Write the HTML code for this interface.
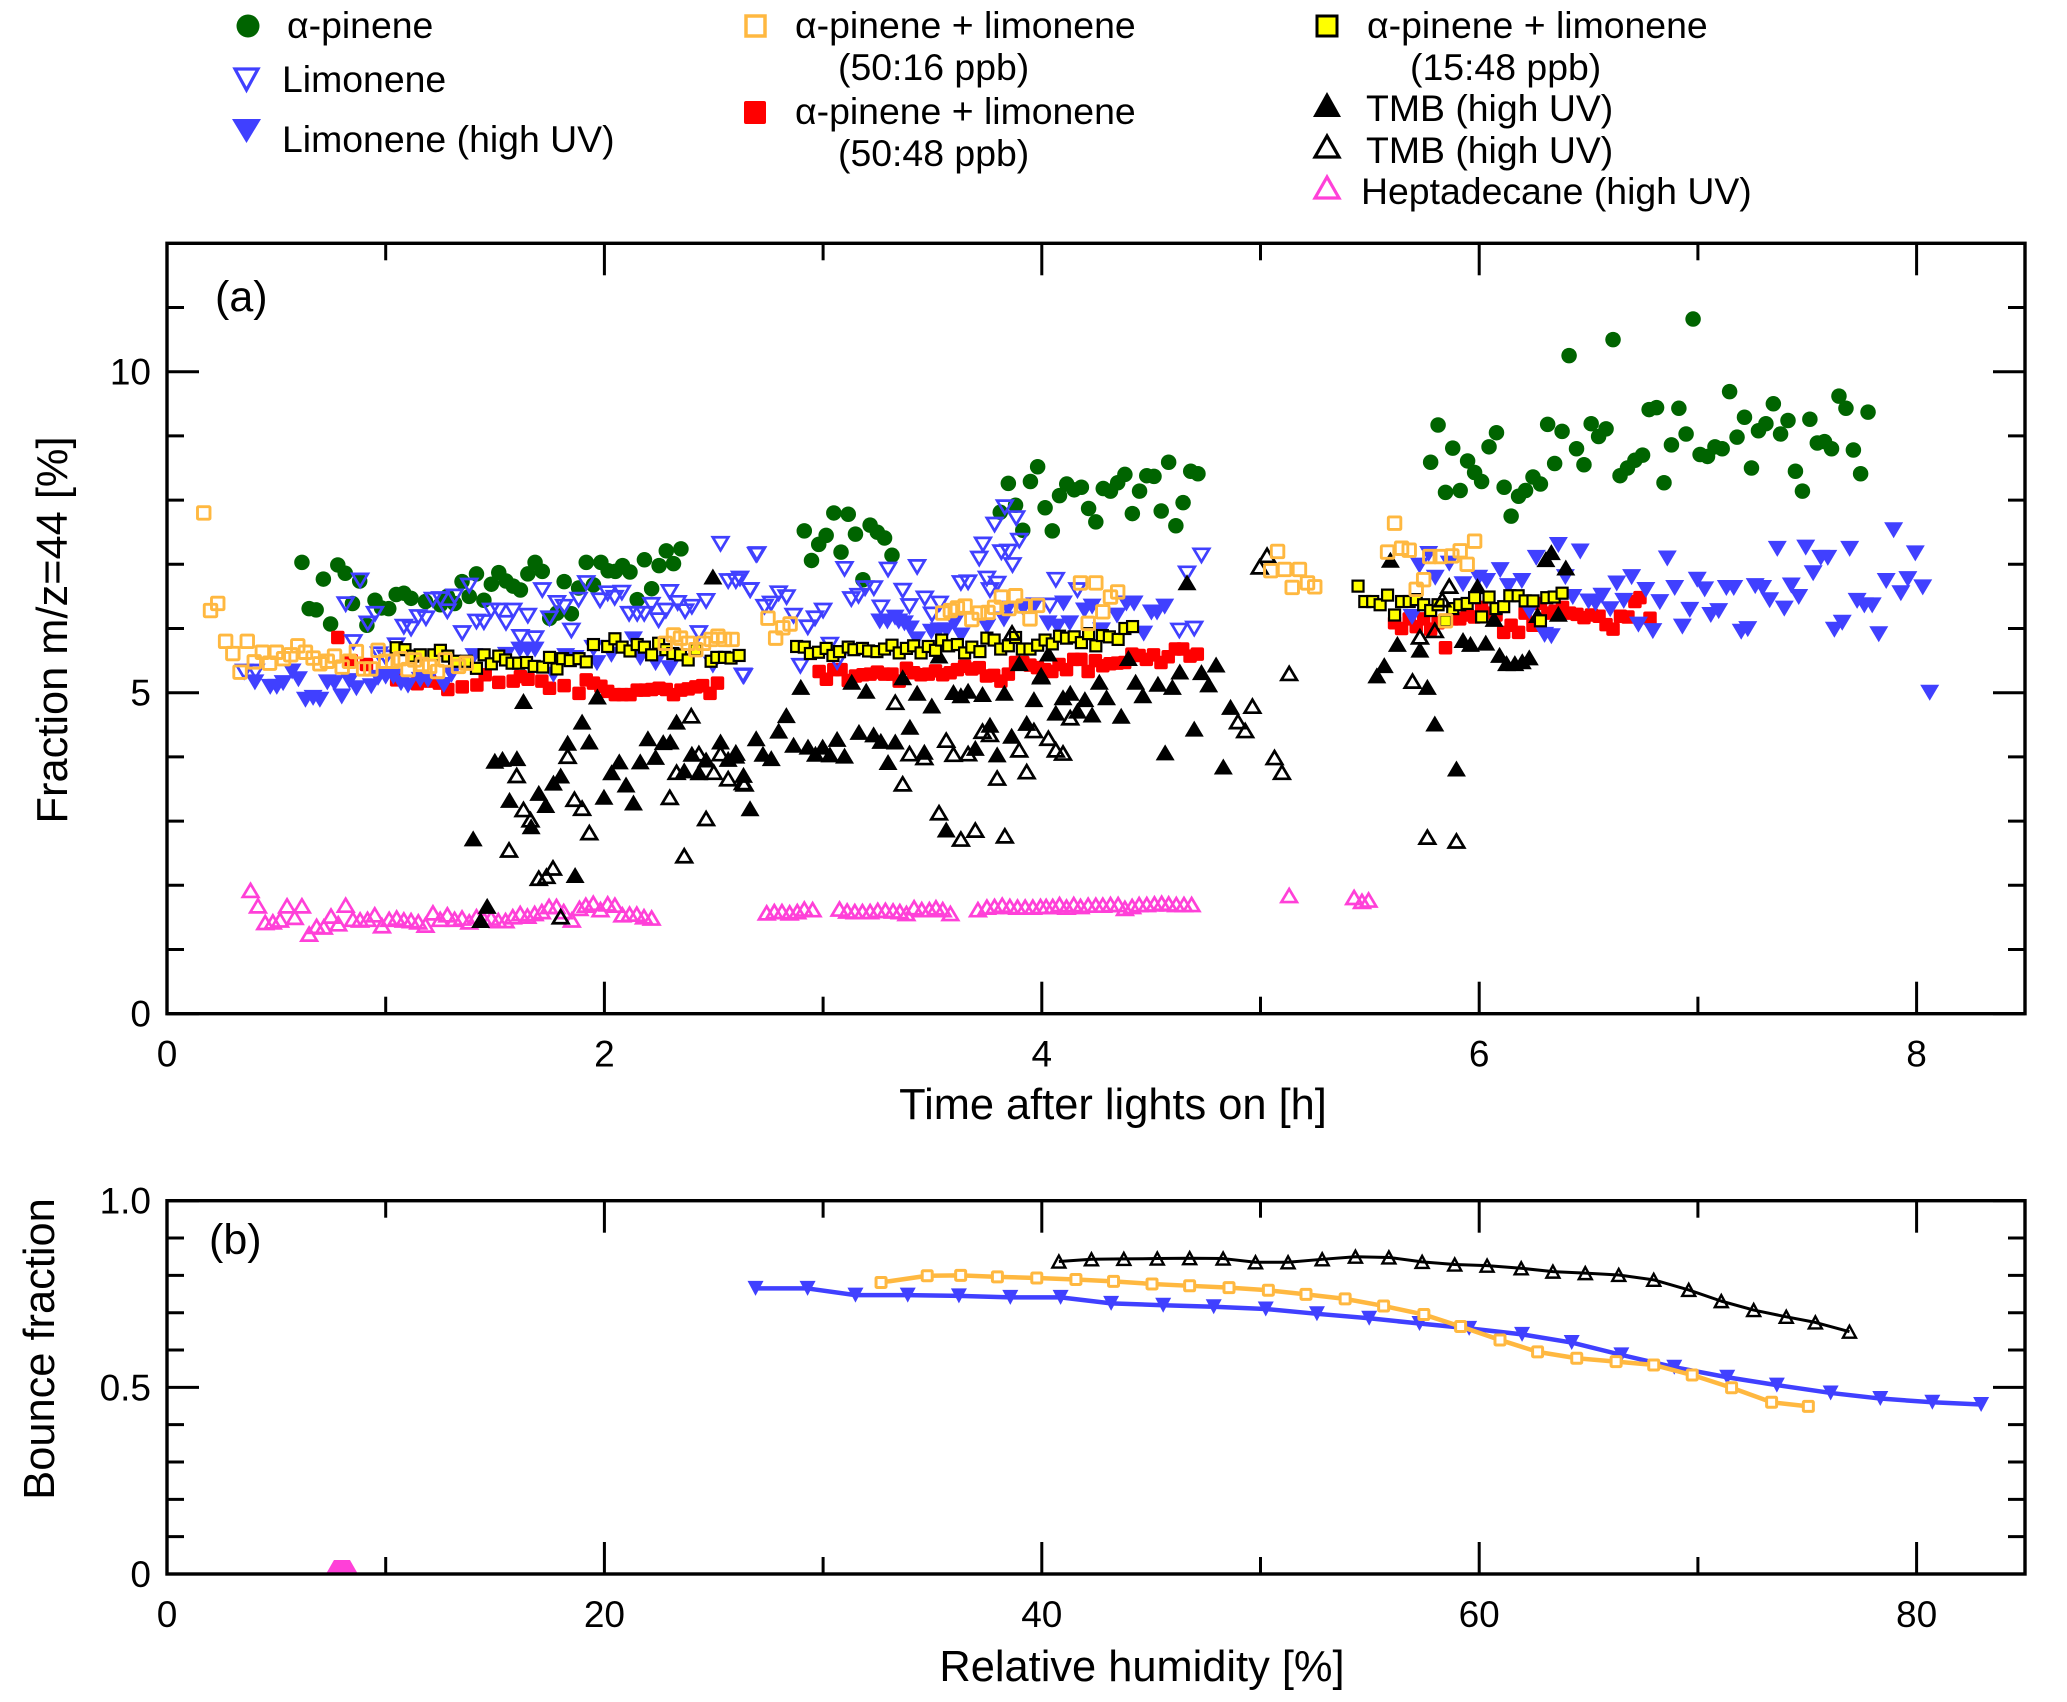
<!DOCTYPE html>
<html>
<head>
<meta charset="utf-8">
<title>Fraction m/z=44 and bounce fraction</title>
<style>
html,body{margin:0;padding:0;background:#fff}
svg{display:block}
text{font-family:"Liberation Sans",Arial,sans-serif;fill:#000}
.leg{font-size:37.4px}
.tick{font-size:37px}
.plabel{font-size:43px}
.title{font-size:43.4px}
</style>
</head>
<body>
<svg id="chart" width="2067" height="1702" viewBox="0 0 2067 1702" xmlns="http://www.w3.org/2000/svg">
<rect width="2067" height="1702" fill="#fff"/>
<g>
<circle cx="248" cy="26" r="11.5" fill="#006400"/>
<text class="leg" x="287" y="38">α-pinene</text>
<polygon points="235,69 258,69 246.5,90" fill="none" stroke="#4040ff" stroke-width="3.2"/>
<text class="leg" x="282" y="92">Limonene</text>
<polygon points="232,119 261,119 246.5,143" fill="#4040ff"/>
<text class="leg" x="282" y="152">Limonene (high UV)</text>
<rect x="746" y="16" width="19" height="20" fill="none" stroke="#ffb840" stroke-width="3.5"/>
<text class="leg" x="795" y="38">α-pinene + limonene</text>
<text class="leg" x="838" y="80">(50:16 ppb)</text>
<rect x="744" y="101" width="22" height="23" rx="2" fill="#ff0000"/>
<text class="leg" x="795" y="124">α-pinene + limonene</text>
<text class="leg" x="838" y="166">(50:48 ppb)</text>
<rect x="1317" y="16" width="20" height="20" fill="#ffff00" stroke="#000" stroke-width="3"/>
<text class="leg" x="1367" y="38">α-pinene + limonene</text>
<text class="leg" x="1410" y="80">(15:48 ppb)</text>
<polygon points="1327,92 1313,117 1341,117" fill="#000"/>
<text class="leg" x="1366" y="121">TMB (high UV)</text>
<polygon points="1327,136 1315,157 1339,157" fill="none" stroke="#000" stroke-width="3.2"/>
<text class="leg" x="1366" y="163">TMB (high UV)</text>
<polygon points="1327,177 1315,198 1339,198" fill="none" stroke="#ff40d8" stroke-width="3.2"/>
<text class="leg" x="1361" y="204">Heptadecane (high UV)</text>
</g>
<g id="panelA"></g>
<g id="panelB"></g>
<text class="title" x="1113" y="1119" text-anchor="middle">Time after lights on [h]</text>
<text class="title" transform="translate(67,630) rotate(-90)" text-anchor="middle">Fraction m/z=44 [%]</text>
<text class="plabel" x="215" y="311">(a)</text>
<text class="title" x="1142" y="1681" text-anchor="middle">Relative humidity [%]</text>
<text class="title" transform="translate(54,1349) rotate(-90)" text-anchor="middle">Bounce fraction</text>
<text class="plabel" x="209" y="1254">(b)</text>
</svg>
<script>
const xTicksMajorA = [0, 2, 4, 6, 8];
const xTicksMinorA = [1, 3, 5, 7];
const yTicksMajorA = [0, 5, 10];
const yTicksMinorA = [1, 2, 3, 4, 6, 7, 8, 9, 11];
const xTicksMajorB = [0, 20, 40, 60, 80];
const xTicksMinorB = [10, 30, 50, 70];
const yTicksMajorB = [0, 0.5, 1];
const yTickLabelsB = ['0', '0.5', '1.0'];
const yTicksMinorB = [0.1, 0.2, 0.3, 0.4, 0.6, 0.7, 0.8, 0.9];

const alphaPinene = [[.617,7.03],[.65,6.31],[.682,6.29],[.715,6.77],[.748,6.07],[.781,6.99],[.815,6.86],[.848,6.39],[.881,6.74],[.914,6.05],[.951,6.44],[.981,6.32],[1.014,6.31],[1.048,6.53],[1.083,6.55],[1.116,6.47],[1.182,6.42],[1.25,6.37],[1.282,6.5],[1.315,6.39],[1.349,6.73],[1.382,6.5],[1.415,6.85],[1.449,6.44],[1.483,6.69],[1.517,6.87],[1.55,6.74],[1.583,6.66],[1.616,6.6],[1.65,6.85],[1.683,7.03],[1.716,6.89],[1.75,6.16],[1.783,6.24],[1.816,6.73],[1.849,6.23],[1.882,6.63],[1.917,7.03],[1.95,6.68],[1.984,7.03],[2.017,6.9],[2.05,6.89],[2.083,6.98],[2.117,6.88],[2.15,6.45],[2.183,7.07],[2.216,6.62],[2.25,6.98],[2.283,7.21],[2.316,7.01],[2.35,7.24],[2.914,7.52],[2.947,7.06],[2.98,7.31],[3.014,7.45],[3.049,7.8],[3.082,7.19],[3.115,7.78],[3.148,7.47],[3.182,6.76],[3.215,7.61],[3.248,7.5],[3.281,7.41],[3.315,7.14],[3.81,7.81],[3.847,8.26],[3.88,7.92],[3.913,7.53],[3.948,8.29],[3.981,8.52],[4.015,7.88],[4.048,7.52],[4.081,8.07],[4.114,8.25],[4.148,8.16],[4.181,8.2],[4.214,7.87],[4.247,7.66],[4.281,8.18],[4.314,8.14],[4.347,8.27],[4.38,8.4],[4.414,7.79],[4.447,8.14],[4.48,8.38],[4.513,8.37],[4.546,7.83],[4.58,8.59],[4.613,7.6],[4.646,7.96],[4.681,8.45],[4.714,8.41],[5.778,8.59],[5.812,9.17],[5.846,8.12],[5.879,8.81],[5.913,8.15],[5.947,8.61],[5.979,8.43],[6.011,8.29],[6.045,8.83],[6.079,9.05],[6.114,8.2],[6.146,7.75],[6.18,8.06],[6.212,8.15],[6.246,8.36],[6.28,8.25],[6.313,9.18],[6.345,8.57],[6.379,9.07],[6.411,10.25],[6.445,8.8],[6.479,8.55],[6.512,9.19],[6.546,8.99],[6.58,9.11],[6.612,10.5],[6.644,8.38],[6.678,8.5],[6.712,8.62],[6.747,8.7],[6.777,9.41],[6.811,9.44],[6.845,8.27],[6.879,8.86],[6.913,9.43],[6.946,9.03],[6.978,10.82],[7.01,8.71],[7.044,8.68],[7.078,8.83],[7.111,8.8],[7.145,9.69],[7.179,8.98],[7.213,9.29],[7.245,8.5],[7.277,9.08],[7.311,9.19],[7.345,9.5],[7.378,9.03],[7.412,9.24],[7.446,8.45],[7.478,8.14],[7.512,9.26],[7.546,8.89],[7.579,8.91],[7.611,8.8],[7.645,9.62],[7.677,9.43],[7.711,8.78],[7.744,8.41],[7.778,9.37]];

const mix5048 = [[.781,5.86],[.842,5.5],[.912,5.44],[1.05,5.2],[1.144,5.14],[1.201,5.18],[1.245,5.15],[1.284,5.05],[1.35,5.09],[1.417,5.12],[1.455,5.28],[1.517,5.16],[1.583,5.18],[1.616,5.25],[1.651,5.21],[1.714,5.18],[1.749,5.07],[1.816,5.11],[1.884,4.99],[1.917,5.2],[1.95,5.15],[1.984,5.1],[2.015,5.02],[2.05,4.97],[2.083,4.97],[2.117,4.97],[2.15,5.04],[2.183,5.04],[2.216,5.05],[2.25,5.07],[2.283,5.05],[2.316,4.97],[2.35,5.04],[2.383,5.06],[2.418,5.09],[2.449,5.11],[2.483,4.99],[2.517,5.15],[2.982,5.33],[3.015,5.21],[3.049,5.36],[3.082,5.36],[3.115,5.19],[3.148,5.26],[3.182,5.28],[3.215,5.29],[3.248,5.32],[3.281,5.29],[3.315,5.29],[3.348,5.18],[3.381,5.38],[3.414,5.31],[3.448,5.28],[3.481,5.29],[3.514,5.34],[3.547,5.28],[3.581,5.31],[3.614,5.36],[3.647,5.41],[3.68,5.37],[3.714,5.39],[3.747,5.26],[3.78,5.27],[3.813,5.18],[3.847,5.29],[3.88,5.47],[3.913,5.47],[3.946,5.43],[3.98,5.39],[4.013,5.36],[4.046,5.33],[4.079,5.44],[4.113,5.36],[4.146,5.52],[4.179,5.52],[4.212,5.33],[4.245,5.5],[4.279,5.42],[4.312,5.45],[4.345,5.46],[4.379,5.47],[4.412,5.6],[4.445,5.58],[4.478,5.52],[4.511,5.59],[4.545,5.47],[4.578,5.56],[4.611,5.68],[4.644,5.68],[4.678,5.57],[4.711,5.6],[5.613,6.09],[5.645,6.0],[5.68,6.15],[5.712,6.03],[5.746,6.15],[5.778,5.99],[5.812,6.09],[5.846,5.7],[5.879,6.15],[5.911,6.15],[5.945,6.21],[5.979,6.18],[6.011,6.33],[6.045,6.24],[6.077,6.21],[6.112,5.94],[6.146,6.05],[6.18,5.94],[6.21,6.24],[6.246,6.05],[6.28,6.39],[6.314,6.24],[6.347,6.27],[6.381,6.33],[6.413,6.24],[6.447,6.22],[6.479,6.17],[6.513,6.21],[6.548,6.19],[6.58,6.06],[6.612,5.99],[6.646,6.19],[6.68,6.18],[6.712,6.42],[6.735,6.48],[6.781,6.16]];

const limoneneHighUv = [[.402,5.16],[.472,5.09],[.502,5.09],[.531,5.15],[.572,5.33],[.601,5.21],[.633,4.89],[.668,4.92],[.699,4.89],[.733,5.16],[.766,5.15],[.799,4.94],[.834,5.18],[.866,5.07],[.934,5.1],[.965,5.23],[1.0,5.25],[1.035,5.25],[1.07,5.15],[1.102,5.11],[1.158,5.2],[1.193,5.2],[1.266,5.12],[1.301,5.28],[1.403,5.57],[1.552,5.59],[1.613,5.67],[1.648,5.67],[1.683,5.67],[1.767,5.28],[1.823,5.57],[1.866,5.54],[1.966,5.46],[2.032,5.59],[2.133,5.83],[2.164,5.54],[2.234,5.46],[2.299,5.38],[3.259,6.11],[3.294,6.11],[3.329,6.17],[3.346,6.11],[3.372,6.08],[3.399,6.0],[3.428,5.83],[3.495,5.95],[3.53,5.97],[3.565,5.97],[3.6,6.08],[3.631,5.89],[3.749,6.03],[3.827,6.14],[3.845,6.31],[3.915,6.31],[3.967,6.36],[4.029,6.08],[4.072,6.03],[4.099,6.39],[4.128,6.08],[4.195,6.28],[4.23,6.34],[4.273,5.97],[4.344,6.2],[4.387,6.39],[4.422,6.39],[4.466,5.92],[4.501,6.25],[4.527,6.25],[4.562,6.34],[5.693,6.18],[5.727,6.98],[5.769,7.16],[5.799,6.79],[5.863,7.01],[5.926,6.69],[5.998,6.79],[6.034,6.74],[6.096,6.91],[6.134,6.66],[6.195,6.74],[6.229,6.27],[6.261,7.1],[6.299,5.9],[6.33,5.88],[6.362,7.3],[6.394,6.8],[6.428,6.49],[6.462,7.2],[6.5,6.42],[6.532,6.39],[6.561,6.51],[6.599,6.3],[6.629,6.7],[6.661,6.43],[6.697,6.8],[6.728,6.06],[6.762,6.6],[6.794,5.96],[6.826,6.41],[6.86,7.09],[6.894,6.63],[6.929,6.03],[6.963,6.29],[6.997,6.76],[7.031,6.61],[7.059,6.21],[7.095,6.27],[7.13,6.63],[7.164,6.63],[7.198,5.95],[7.228,5.99],[7.262,6.66],[7.296,6.63],[7.328,6.44],[7.363,7.24],[7.395,6.31],[7.427,6.67],[7.461,6.49],[7.493,7.26],[7.527,6.86],[7.562,7.1],[7.594,7.1],[7.624,5.98],[7.66,6.09],[7.694,7.24],[7.728,6.43],[7.761,6.36],[7.797,6.36],[7.827,5.91],[7.861,6.74],[7.895,7.53],[7.928,6.55],[7.96,6.77],[7.994,7.17],[8.028,6.64],[8.06,5.0]];

const limoneneOpen = [[.353,5.33],[.405,5.33],[.817,6.38],[.883,6.75],[.852,5.79],[.918,6.08],[.951,6.23],[.97,5.6],[1.0,5.55],[1.048,5.74],[1.083,6.03],[1.116,6.0],[1.149,6.18],[1.184,6.16],[1.216,6.45],[1.25,6.46],[1.282,6.27],[1.315,6.5],[1.35,5.93],[1.382,6.67],[1.415,6.11],[1.449,6.1],[1.482,6.28],[1.517,6.28],[1.55,6.09],[1.583,6.28],[1.616,5.87],[1.65,6.2],[1.683,5.85],[1.716,6.6],[1.749,6.16],[1.783,6.4],[1.816,6.34],[1.849,5.97],[1.882,6.45],[1.917,6.71],[1.95,5.7],[1.98,6.44],[2.015,6.55],[2.047,6.48],[2.08,6.56],[2.113,6.23],[2.15,6.23],[2.182,6.23],[2.215,6.37],[2.248,6.13],[2.281,6.28],[2.299,6.57],[2.335,6.4],[2.369,6.27],[2.4,6.34],[2.432,5.93],[2.465,6.43],[2.496,5.44],[2.531,7.32],[2.566,6.74],[2.601,6.74],[2.633,5.27],[2.666,6.6],[2.694,7.15],[2.62,6.78],[2.667,6.6],[2.699,7.16],[2.637,5.26],[2.732,6.34],[2.762,6.39],[2.797,6.55],[2.833,6.49],[2.865,6.2],[2.896,5.42],[2.93,6.02],[2.963,6.16],[3.0,6.28],[3.031,5.75],[3.064,5.48],[3.098,6.93],[3.129,6.46],[3.162,6.51],[3.192,6.63],[3.232,6.63],[3.264,6.33],[3.297,6.92],[3.364,6.59],[3.395,6.35],[3.43,6.96],[3.465,6.47],[3.498,6.22],[3.533,6.39],[3.63,6.71],[3.663,6.72],[3.714,7.09],[3.731,7.31],[3.749,6.78],[3.763,6.6],[3.784,7.62],[3.796,6.7],[3.815,7.19],[3.831,7.89],[3.848,7.2],[3.866,6.99],[3.883,7.72],[3.897,7.37],[4.064,6.76],[4.037,6.36],[4.163,6.6],[4.629,5.97],[4.697,6.0],[4.664,6.86],[4.73,7.14]];

const heptadecane = [[.382,1.92],[.416,1.68],[.449,1.42],[.484,1.43],[.517,1.46],[.549,1.68],[.584,1.5],[.617,1.68],[.65,1.24],[.684,1.36],[.717,1.35],[.75,1.52],[.783,1.4],[.817,1.69],[.85,1.47],[.883,1.46],[.917,1.47],[.95,1.54],[.983,1.37],[1.016,1.47],[1.05,1.49],[1.083,1.46],[1.116,1.45],[1.149,1.43],[1.182,1.38],[1.216,1.57],[1.249,1.47],[1.282,1.54],[1.315,1.47],[1.349,1.49],[1.382,1.43],[1.415,1.51],[1.449,1.47],[1.482,1.49],[1.515,1.45],[1.548,1.45],[1.581,1.51],[1.615,1.56],[1.648,1.52],[1.681,1.56],[1.714,1.59],[1.747,1.67],[1.781,1.67],[1.814,1.59],[1.851,1.46],[1.886,1.64],[1.915,1.69],[1.949,1.72],[1.982,1.62],[2.015,1.71],[2.048,1.69],[2.082,1.54],[2.115,1.55],[2.148,1.55],[2.181,1.51],[2.216,1.49],[2.742,1.57],[2.777,1.59],[2.812,1.59],[2.847,1.57],[2.882,1.59],[2.914,1.63],[2.952,1.62],[3.075,1.63],[3.11,1.6],[3.145,1.59],[3.18,1.59],[3.215,1.59],[3.25,1.61],[3.285,1.61],[3.32,1.6],[3.351,1.59],[3.381,1.56],[3.416,1.65],[3.451,1.62],[3.486,1.62],[3.516,1.65],[3.547,1.62],[3.582,1.56],[3.708,1.62],[3.749,1.66],[3.784,1.67],[3.819,1.69],[3.854,1.67],[3.889,1.66],[3.924,1.66],[3.959,1.66],[3.994,1.67],[4.02,1.67],[4.05,1.67],[4.081,1.7],[4.113,1.66],[4.146,1.7],[4.177,1.67],[4.212,1.69],[4.247,1.69],[4.279,1.69],[4.314,1.7],[4.349,1.7],[4.38,1.64],[4.413,1.67],[4.445,1.7],[4.48,1.7],[4.515,1.71],[4.548,1.72],[4.58,1.71],[4.615,1.7],[4.65,1.7],[4.685,1.7],[5.131,1.84],[5.428,1.81],[5.464,1.75],[5.494,1.77]];

const tmbFilled = [[1.4,2.73],[1.499,3.94],[1.534,3.97],[1.6,3.98],[1.566,3.33],[1.7,3.44],[1.732,3.25],[1.665,2.92],[1.767,3.6],[1.8,3.71],[1.866,2.16],[1.832,4.22],[1.898,4.55],[1.931,4.24],[1.63,4.87],[1.968,4.94],[1.998,3.38],[2.033,3.76],[2.068,3.93],[2.099,3.57],[2.133,3.29],[2.164,3.93],[2.199,4.29],[2.234,4.0],[2.269,4.23],[2.301,4.24],[2.33,4.55],[2.365,3.79],[2.4,4.05],[2.432,3.76],[2.465,3.96],[2.496,6.81],[2.531,4.24],[2.566,3.97],[2.601,4.02],[2.636,3.72],[2.666,3.2],[2.694,4.29],[1.434,1.46],[1.464,1.68],[2.725,4.05],[2.763,3.98],[2.797,4.41],[2.832,4.65],[2.865,4.19],[2.898,5.09],[2.931,4.16],[2.965,4.05],[2.998,4.16],[3.031,4.04],[3.064,4.28],[3.098,4.02],[3.131,5.17],[3.164,4.39],[3.197,5.03],[3.231,4.35],[3.264,4.25],[3.297,3.92],[3.33,4.24],[3.364,5.24],[3.397,4.47],[3.43,5.0],[3.463,4.08],[3.497,4.8],[3.53,5.58],[3.563,2.87],[3.596,5.01],[3.63,4.96],[3.663,5.03],[3.696,4.14],[3.729,4.98],[3.763,4.5],[3.796,4.04],[3.829,5.0],[3.862,4.33],[3.897,5.46],[3.931,4.53],[3.964,4.9],[3.997,5.28],[4.03,5.61],[4.064,4.69],[4.097,4.93],[4.13,5.0],[4.163,4.72],[4.197,4.9],[4.23,4.66],[4.263,5.17],[4.296,4.93],[4.363,4.64],[4.396,5.54],[4.429,5.17],[4.462,4.96],[4.531,5.14],[4.564,4.07],[4.597,5.09],[4.631,5.33],[4.664,6.72],[4.697,4.44],[4.73,5.32],[4.763,5.13],[4.797,5.44],[4.83,3.85],[4.863,4.78],[5.532,5.27],[5.566,5.43],[5.594,7.07],[5.626,5.76],[5.729,5.67],[5.763,5.09],[5.797,4.52],[5.896,3.82],[5.926,5.82],[5.96,5.76],[6.03,5.78],[6.093,5.59],[6.125,5.46],[6.163,5.46],[6.197,5.49],[6.229,5.55],[6.267,6.21],[6.305,7.08],[6.33,7.19],[6.362,6.23],[6.396,6.95],[6.068,6.15],[5.992,6.66]];

const mix1548 = [[1.048,5.7],[1.088,5.67],[1.123,5.57],[1.158,5.59],[1.22,5.59],[1.25,5.66],[1.284,5.57],[1.315,5.49],[1.368,5.49],[1.415,5.38],[1.45,5.59],[1.483,5.45],[1.517,5.57],[1.548,5.51],[1.578,5.46],[1.608,5.46],[1.644,5.47],[1.679,5.41],[1.718,5.4],[1.749,5.55],[1.783,5.37],[1.809,5.53],[1.844,5.5],[1.884,5.53],[1.917,5.48],[1.95,5.75],[2.015,5.72],[2.048,5.84],[2.081,5.71],[2.117,5.65],[2.15,5.75],[2.183,5.71],[2.216,5.59],[2.248,5.77],[2.281,5.67],[2.313,5.61],[2.348,5.59],[2.383,5.51],[2.418,5.67],[2.488,5.49],[2.514,5.55],[2.549,5.55],[2.579,5.54],[2.616,5.58],[2.879,5.72],[2.914,5.71],[2.942,5.61],[2.979,5.63],[3.014,5.69],[3.045,5.58],[3.075,5.64],[3.115,5.71],[3.141,5.67],[3.18,5.69],[3.208,5.65],[3.246,5.64],[3.281,5.68],[3.315,5.74],[3.348,5.62],[3.381,5.69],[3.414,5.73],[3.448,5.62],[3.481,5.72],[3.514,5.66],[3.542,5.82],[3.574,5.73],[3.614,5.75],[3.647,5.62],[3.68,5.71],[3.717,5.64],[3.749,5.85],[3.782,5.82],[3.812,5.68],[3.847,5.73],[3.88,5.86],[3.911,5.68],[3.946,5.68],[3.981,5.74],[4.015,5.82],[4.048,5.76],[4.081,5.88],[4.113,5.85],[4.148,5.87],[4.181,5.78],[4.214,5.92],[4.247,5.73],[4.277,5.89],[4.309,5.87],[4.349,5.83],[4.38,6.0],[4.415,6.03],[5.446,6.66],[5.477,6.42],[5.513,6.42],[5.547,6.37],[5.581,6.52],[5.613,6.21],[5.645,6.42],[5.68,6.42],[5.712,6.45],[5.746,6.37],[5.778,6.28],[5.812,6.37],[5.846,6.12],[5.879,6.31],[5.911,6.37],[5.945,6.39],[5.979,6.48],[6.011,6.18],[6.045,6.49],[6.077,6.31],[6.112,6.34],[6.14,6.51],[6.178,6.51],[6.21,6.43],[6.246,6.43],[6.28,6.12],[6.309,6.48],[6.343,6.49],[6.379,6.55]];

const tmbOpen = [[1.599,3.71],[1.564,2.55],[1.63,3.18],[1.662,3.02],[1.7,2.11],[1.735,2.14],[1.765,2.27],[1.8,1.51],[1.832,4.01],[1.863,3.34],[1.898,3.2],[1.931,2.82],[2.299,3.37],[2.33,3.76],[2.365,2.46],[2.397,4.64],[2.432,4.05],[2.465,3.04],[2.5,3.76],[2.531,4.05],[2.566,3.66],[2.601,4.06],[2.633,3.6],[2.641,3.58],[3.33,4.85],[3.364,3.58],[3.395,4.05],[3.463,3.99],[3.53,3.13],[3.563,4.26],[3.596,4.04],[3.63,2.72],[3.663,4.05],[3.696,2.86],[3.729,4.4],[3.763,4.35],[3.796,3.67],[3.831,2.77],[3.864,5.93],[3.897,4.11],[3.931,3.77],[3.964,4.41],[3.997,5.25],[4.03,4.29],[4.064,4.11],[4.097,4.06],[4.13,4.61],[5.064,3.99],[5.098,3.76],[5.131,5.3],[5.03,7.14],[4.996,6.96],[4.897,4.55],[4.93,4.41],[4.963,4.79],[5.729,5.87],[5.695,5.18],[5.763,2.75],[5.896,2.69],[5.797,5.97],[5.831,6.45],[5.863,6.66]];

const mix5016 = [[.168,7.8],[.232,6.39],[.199,6.28],[.268,5.8],[.301,5.61],[.367,5.8],[.334,5.32],[.399,5.48],[.436,5.63],[.469,5.46],[.5,5.63],[.533,5.53],[.566,5.59],[.598,5.73],[.633,5.63],[.668,5.54],[.699,5.45],[.733,5.49],[.766,5.57],[.801,5.4],[.834,5.49],[.866,5.64],[.899,5.37],[.932,5.37],[.965,5.66],[1.0,5.49],[1.032,5.49],[1.067,5.53],[1.102,5.36],[1.132,5.51],[1.167,5.44],[1.201,5.41],[1.237,5.33],[1.272,5.51],[1.333,5.41],[1.368,5.46],[2.278,5.77],[2.316,5.9],[2.348,5.85],[2.383,5.77],[2.418,5.67],[2.453,5.77],[2.488,5.83],[2.519,5.88],[2.549,5.83],[2.584,5.83],[2.748,6.16],[2.783,5.85],[2.816,6.01],[2.849,6.07],[3.547,6.24],[3.582,6.28],[3.614,6.32],[3.649,6.35],[3.68,6.14],[3.714,6.24],[3.754,6.25],[3.784,6.33],[3.815,6.49],[3.85,6.31],[3.88,6.51],[3.915,6.35],[3.946,6.15],[3.981,6.36],[4.177,6.71],[4.247,6.71],[4.212,6.08],[4.279,6.26],[4.314,6.49],[4.347,6.57],[5.078,7.2],[5.047,6.9],[5.11,6.92],[5.178,6.92],[5.145,6.64],[5.215,6.71],[5.248,6.65],[5.613,7.64],[5.581,7.19],[5.645,7.25],[5.68,7.22],[5.774,7.12],[5.822,7.12],[5.875,7.13],[5.913,7.21],[5.979,7.36],[5.945,7.0],[5.746,6.76],[5.712,6.61],[5.846,6.12]];

const bounceLimonene = [[26.91,.765],[29.29,.765],[31.48,.747],[33.87,.747],[36.21,.745],[38.56,.741],[40.86,.741],[43.17,.725],[45.55,.72],[47.86,.716],[50.24,.71],[52.58,.697],[54.97,.685],[57.27,.671],[59.54,.658],[61.96,.642],[64.23,.62],[66.5,.587],[68.92,.554],[71.34,.527],[73.61,.506],[76.07,.485],[78.34,.47],[80.72,.46],[82.95,.454]];
const bounceMix = [[32.65,.781],[34.76,.799],[36.29,.8],[37.97,.796],[39.77,.793],[41.56,.789],[43.28,.784],[45.04,.777],[46.76,.772],[48.56,.767],[50.36,.76],[52.08,.749],[53.87,.737],[55.63,.718],[57.47,.695],[59.15,.663],[60.95,.627],[62.67,.595],[64.46,.578],[66.26,.569],[67.98,.56],[69.74,.533],[71.54,.499],[73.37,.46],[75.05,.449]];
const bounceTmb = [[40.78,.837],[42.27,.843],[43.75,.844],[45.28,.845],[46.76,.846],[48.29,.845],[49.77,.835],[51.26,.835],[52.82,.843],[54.34,.85],[55.87,.848],[57.39,.836],[58.88,.829],[60.36,.826],[61.92,.819],[63.37,.81],[64.85,.806],[66.38,.801],[67.98,.788],[69.58,.761],[71.07,.731],[72.55,.707],[74.04,.689],[75.37,.674],[76.93,.649]];
const bounceHeptadecane = [[8.0,0.0]];

const NS = 'http://www.w3.org/2000/svg';
const xA = function (t) { return 167 + t * 218.7; };
const yA = function (v) { return 1013.7 - v * 64.2; };
const xB = function (rh) { return 167 + rh * 21.87; };
const yB = function (f) { return 1574 - f * 373.3; };
const LEFT = 167, RIGHT = 2025;
const TOP_A = yA(12), BOT_A = yA(0), TOP_B = yB(1), BOT_B = yB(0);

function make(parent, tag, attrs) {
  const el = document.createElementNS(NS, tag);
  for (const k in attrs) el.setAttribute(k, attrs[k]);
  parent.appendChild(el);
  return el;
}
function tickLine(parent, name, x1, y1, x2, y2, w) {
  const el = make(parent, 'line', { x1: x1, y1: y1, x2: x2, y2: y2, stroke: '#000', 'stroke-width': w });
  
  
}
function label(parent, name, x, y, anchor, str) {
  const el = make(parent, 'text', { x: x, y: y, 'text-anchor': anchor, 'class': 'tick' });
  el.textContent = str;
  
  
}
function drawAxes(parent, prefix, sx, sy, top, bot, xMaj, xMin, yMaj, yMin, yLabels) {
  const frame = make(parent, 'rect', { x: LEFT, y: top, width: RIGHT - LEFT, height: bot - top, fill: 'none', stroke: '#000', 'stroke-width': 3.4 });
  
  
  xMaj.forEach(function (v) {
    tickLine(parent, prefix + '-x-tick', sx(v), bot, sx(v), bot - 32, 3);
    tickLine(parent, prefix + '-x-tick-top', sx(v), top, sx(v), top + 32, 3);
    label(parent, prefix + '-x-tick-label', sx(v), bot + 53, 'middle', String(v));
  });
  xMin.forEach(function (v) {
    tickLine(parent, prefix + '-x-minor-tick', sx(v), bot, sx(v), bot - 17, 3);
    tickLine(parent, prefix + '-x-minor-tick-top', sx(v), top, sx(v), top + 17, 3);
  });
  yMaj.forEach(function (v, i) {
    tickLine(parent, prefix + '-y-tick', LEFT, sy(v), LEFT + 32, sy(v), 3);
    tickLine(parent, prefix + '-y-tick-right', RIGHT, sy(v), RIGHT - 32, sy(v), 3);
    label(parent, prefix + '-y-tick-label', 151, sy(v) + 13, 'end', yLabels[i]);
  });
  yMin.forEach(function (v) {
    tickLine(parent, prefix + '-y-minor-tick', LEFT, sy(v), LEFT + 17, sy(v), 3);
    tickLine(parent, prefix + '-y-minor-tick-right', RIGHT, sy(v), RIGHT - 17, sy(v), 3);
  });
}
function triPoints(cx, cy, w, h, dir) {
  const s = dir === 'up' ? 1 : -1;
  return (cx) + ',' + (cy - s * h / 2) + ' ' + (cx - w / 2) + ',' + (cy + s * h / 2) + ' ' + (cx + w / 2) + ',' + (cy + s * h / 2);
}
function plotSeries(parent, name, data, sx, sy, style) {
  const g = make(parent, 'g', {});
  
  
  if (style.line) {
    const pl = make(g, 'polyline', {
      points: data.map(function (p) { return sx(p[0]) + ',' + sy(p[1]); }).join(' '),
      fill: 'none', stroke: style.line, 'stroke-width': style.lineWidth, 'stroke-linejoin': 'round'
    });
    
    
  }
  data.forEach(function (p) {
    const cx = sx(p[0]), cy = sy(p[1]);
    let el;
    if (style.shape === 'circle') {
      el = make(g, 'circle', { cx: cx, cy: cy, r: style.size / 2, fill: style.fill });
    } else if (style.shape === 'square') {
      el = make(g, 'rect', { x: cx - style.size / 2, y: cy - style.size / 2, width: style.size, height: style.size, rx: style.rx || 0, fill: style.fill, stroke: style.stroke || 'none', 'stroke-width': style.sw || 0 });
    } else if (style.shape === 'trapezoid') {
      el = make(g, 'polygon', { points: (cx - 16) + ',' + cy + ' ' + (cx - 8) + ',' + (cy - 14) + ' ' + (cx + 8) + ',' + (cy - 14) + ' ' + (cx + 16) + ',' + cy, fill: style.fill });
    } else {
      el = make(g, 'polygon', { points: triPoints(cx, cy, style.w, style.h, style.shape), fill: style.fill, stroke: style.stroke || 'none', 'stroke-width': style.sw || 0 });
    }
    
    
  });
}

const panelA = document.getElementById('panelA');
const panelB = document.getElementById('panelB');

plotSeries(panelA, 'alpha-pinene', alphaPinene, xA, yA, { shape: 'circle', size: 15.5, fill: '#006400' });
plotSeries(panelA, 'mix-50-48', mix5048, xA, yA, { shape: 'square', size: 13.5, rx: 2, fill: '#ff0000' });
plotSeries(panelA, 'limonene-high-uv', limoneneHighUv, xA, yA, { shape: 'down', w: 19, h: 16, fill: '#4040ff' });
plotSeries(panelA, 'limonene', limoneneOpen, xA, yA, { shape: 'down', w: 15.5, h: 13, fill: 'none', stroke: '#4040ff', sw: 2.7 });
plotSeries(panelA, 'heptadecane', heptadecane, xA, yA, { shape: 'up', w: 15.5, h: 13, fill: 'none', stroke: '#ff40d8', sw: 2.7 });
plotSeries(panelA, 'tmb-filled', tmbFilled, xA, yA, { shape: 'up', w: 19, h: 16, fill: '#000' });
plotSeries(panelA, 'mix-15-48', mix1548, xA, yA, { shape: 'square', size: 11, fill: '#ffff00', stroke: '#000', sw: 2.2 });
plotSeries(panelA, 'tmb-open', tmbOpen, xA, yA, { shape: 'up', w: 15.5, h: 13, fill: 'none', stroke: '#000', sw: 2.7 });
plotSeries(panelA, 'mix-50-16', mix5016, xA, yA, { shape: 'square', size: 12.5, rx: 1, fill: 'none', stroke: '#ffb840', sw: 2.9 });
drawAxes(panelA, 'panel-a', xA, yA, TOP_A, BOT_A, xTicksMajorA, xTicksMinorA, yTicksMajorA, yTicksMinorA, yTicksMajorA.map(String));

plotSeries(panelB, 'bounce-tmb', bounceTmb, xB, yB, { shape: 'up', w: 13, h: 12, fill: 'none', stroke: '#000', sw: 2.4, line: '#000', lineWidth: 3 });
plotSeries(panelB, 'bounce-limonene', bounceLimonene, xB, yB, { shape: 'down', w: 16, h: 15, fill: '#4040ff', line: '#4040ff', lineWidth: 4.5 });
plotSeries(panelB, 'bounce-mix', bounceMix, xB, yB, { shape: 'square', size: 10, rx: 1, fill: '#fff', stroke: '#ffb840', sw: 3, line: '#ffb840', lineWidth: 4.5 });
plotSeries(panelB, 'bounce-heptadecane', bounceHeptadecane, xB, yB, { shape: 'trapezoid', fill: '#ff40d8' });
drawAxes(panelB, 'panel-b', xB, yB, TOP_B, BOT_B, xTicksMajorB, xTicksMinorB, yTicksMajorB, yTicksMinorB, yTickLabelsB);
</script>
</body>
</html>
